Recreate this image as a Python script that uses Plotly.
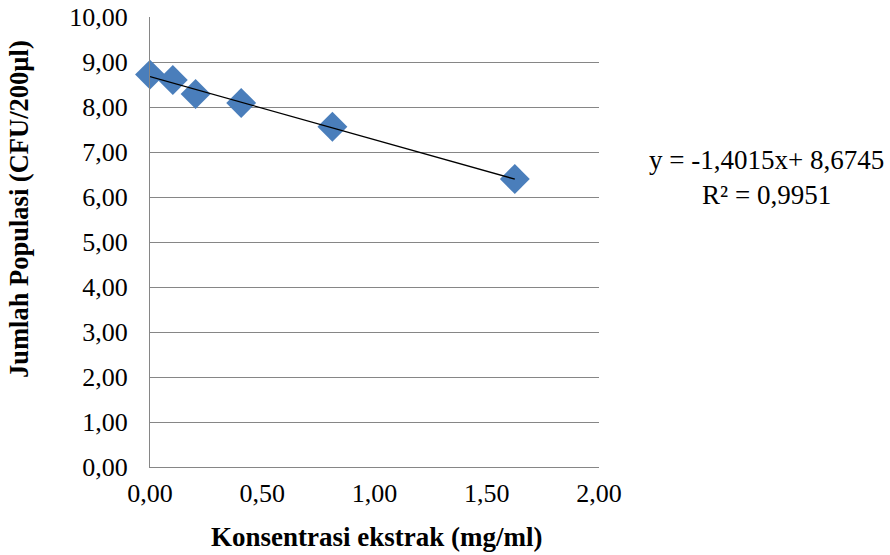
import plotly.graph_objects as go
import numpy as np

konsentrasi = [0.0, 0.1016, 0.2031, 0.4063, 0.8125, 1.625]
populasi = [8.72, 8.60, 8.29, 8.09, 7.56, 6.40]
slope = -1.4015
intercept = 8.6745
r2 = 0.9951
y_ticks = [0, 1, 2, 3, 4, 5, 6, 7, 8, 9, 10]
y_labels = ["0,00", "1,00", "2,00", "3,00", "4,00", "5,00", "6,00", "7,00", "8,00", "9,00", "10,00"]
x_ticks = [0, 0.5, 1.0, 1.5, 2.0]
x_labels = ["0,00", "0,50", "1,00", "1,50", "2,00"]

font = "Liberation Serif, Times New Roman, serif"

xs = np.array([min(konsentrasi), max(konsentrasi)])
fig = go.Figure()
fig.add_trace(go.Scatter(x=konsentrasi, y=populasi, mode="markers",
                         marker=dict(symbol="diamond", size=23, color="#4A7EBB",
                                     line=dict(width=0)),
                         showlegend=False, cliponaxis=False))
fig.add_trace(go.Scatter(x=xs, y=slope * xs + intercept, mode="lines",
                         line=dict(color="black", width=1.3), showlegend=False,
                         cliponaxis=False))

eq = ("y = " + f"{slope:.4f}".replace(".", ",") + "x+ " + f"{intercept:.4f}".replace(".", ","))
r2t = "R² = " + f"{r2:.4f}".replace(".", ",")
fig.add_annotation(x=1.0, y=1.0, xref="paper", yref="paper",
                   xanchor="center", yanchor="middle",
                   text=eq + "<br>" + r2t,
                   showarrow=False, font=dict(family=font, size=27, color="black"),
                   xshift=167, yshift=-160, align="center")

fig.add_annotation(x=0, y=0.5, xref="paper", yref="paper",
                   xanchor="center", yanchor="middle", textangle=-90,
                   text="<b>Jumlah Populasi (CFU/200µl)</b>", showarrow=False,
                   font=dict(family=font, size=26.5, color="black"),
                   xshift=-131, yshift=33)
fig.add_annotation(x=0.5, y=0, xref="paper", yref="paper",
                   xanchor="center", yanchor="middle",
                   text="<b>Konsentrasi ekstrak (mg/ml)</b>", showarrow=False,
                   font=dict(family=font, size=27, color="black"),
                   xshift=2, yshift=-70)

fig.update_layout(
    width=890, height=555,
    margin=dict(l=150, r=291, t=17, b=88, autoexpand=False),
    paper_bgcolor="white", plot_bgcolor="white",
    font=dict(family=font, size=26, color="black"),
    hovermode=False,
    xaxis=dict(range=[0, 2], tickvals=x_ticks, ticktext=x_labels, showgrid=False,
               zeroline=False, showline=True, linecolor="#868686", linewidth=1,
               ticks="", automargin=False, ticklabelstandoff=3),
    yaxis=dict(range=[0, 10], tickvals=y_ticks, ticktext=y_labels, showgrid=True,
               gridcolor="#868686", gridwidth=1, zeroline=False, showline=True,
               linecolor="#868686", linewidth=1, ticks="", automargin=False,
               ticklabelstandoff=16),
)
fig.write_html("out.html", config={"displayModeBar": False, "staticPlot": True},
               post_script="document.body.style.margin='0';document.body.style.overflow='hidden';")
